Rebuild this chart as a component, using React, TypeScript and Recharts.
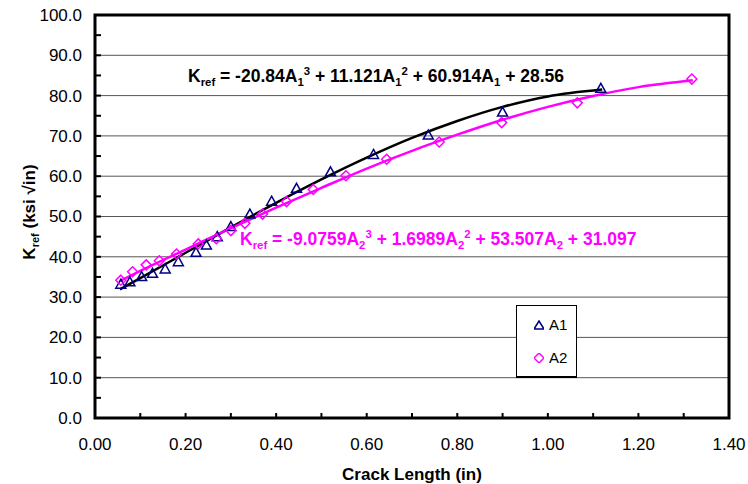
import { ComposedChart, Scatter, Line, XAxis, YAxis, CartesianGrid, ReferenceArea } from 'recharts'

// measured points
const A1_X = [0.057, 0.077, 0.103, 0.127, 0.155, 0.184, 0.223, 0.246, 0.27, 0.3, 0.342, 0.39, 0.445, 0.52, 0.615, 0.736, 0.9, 1.117]
const A1_Y = [33.2, 33.8, 35.1, 35.9, 37.0, 38.8, 41.1, 42.9, 45.0, 47.5, 50.6, 53.8, 57.0, 61.1, 65.4, 70.2, 75.9, 81.8]
const A2_X = [0.057, 0.083, 0.113, 0.142, 0.18, 0.228, 0.268, 0.3, 0.331, 0.37, 0.423, 0.482, 0.554, 0.644, 0.76, 0.898, 1.065, 1.318]
const A2_Y = [34.2, 36.3, 38.0, 39.0, 40.7, 43.2, 44.5, 46.5, 48.3, 50.6, 53.7, 56.7, 60.1, 64.2, 68.5, 73.3, 78.2, 84.1]

// trend lines
const FIT1_X = [0.055, 0.1, 0.2, 0.3, 0.4, 0.5, 0.6, 0.7, 0.8, 0.9, 1.0, 1.12]
const FIT1_Y = [31.9, 34.7, 41.0, 47.3, 53.4, 59.2, 64.6, 69.5, 73.7, 77.2, 79.8, 81.5]
const FIT2_X = [0.055, 0.1, 0.2, 0.3, 0.4, 0.5, 0.6, 0.7, 0.8, 0.9, 1.0, 1.1, 1.2, 1.32]
const FIT2_Y = [34.0, 36.5, 41.8, 47.1, 52.2, 57.1, 61.9, 66.3, 70.3, 74.0, 77.2, 79.9, 82.1, 83.8]

const X_TICKS = [0, 0.1, 0.2, 0.3, 0.4, 0.5, 0.6, 0.7, 0.8, 0.9, 1.0, 1.1, 1.2, 1.3, 1.4]
const Y_TICKS = [0, 5, 10, 15, 20, 25, 30, 35, 40, 45, 50, 55, 60, 65, 70, 75, 80, 85, 90, 95, 100]
const GRID_Y = [10, 20, 30, 40, 50, 60, 70, 80, 90]

const FONT = 'Arial, "Liberation Sans", sans-serif'
const NAVY = '#000080'
const MAGENTA = '#ff00ff'

const zip = (xs: number[], ys: number[]) => xs.map((x, i) => ({ x, y: ys[i] }))

function XTick(props: any) {
  const { x, y, payload } = props
  const v = payload.value
  const major = Math.round(v * 10) % 2 === 0
  return (
    <g>
      <line x1={x} x2={x} y1={y} y2={y - 5} stroke="#000" strokeWidth={2} />
      {major && (
        <text x={x} y={y + 32} textAnchor="middle" fontSize={17} fontFamily={FONT} fill="#000">
          {v.toFixed(2)}
        </text>
      )}
    </g>
  )
}

function YTick(props: any) {
  const { x, y, payload } = props
  const v = payload.value
  const major = v % 10 === 0
  return (
    <g>
      <line x1={x} x2={x + 6} y1={y} y2={y} stroke="#000" strokeWidth={2} />
      {major && (
        <text x={x - 13} y={y} dy="0.35em" textAnchor="end" fontSize={17} fontFamily={FONT} fill="#000">
          {v.toFixed(1)}
        </text>
      )}
    </g>
  )
}

const Triangle = (p: any) => (
  <path
    d={`M${p.cx},${p.cy - 5} L${p.cx + 5},${p.cy + 4} L${p.cx - 5},${p.cy + 4} Z`}
    fill="none"
    stroke={NAVY}
    strokeWidth={1.5}
  />
)

const Diamond = (p: any) => (
  <path
    d={`M${p.cx},${p.cy - 5} L${p.cx + 5},${p.cy} L${p.cx},${p.cy + 5} L${p.cx - 5},${p.cy} Z`}
    fill="none"
    stroke={MAGENTA}
    strokeWidth={1.5}
  />
)

type Seg = { t: string; s?: 'sub' | 'sup' }

// text with sub/superscripts
function RichText({ x, y, segs, size, fill, ...rest }: any) {
  let cur = 0
  return (
    <text x={x} y={y} fontSize={size} fontFamily={FONT} fontWeight="bold" fill={fill} {...rest}>
      {segs.map((sg: Seg, i: number) => {
        const target = sg.s === 'sub' ? size * 0.25 : sg.s === 'sup' ? -size * 0.4 : 0
        const dy = target - cur
        cur = target
        return (
          <tspan key={i} dy={dy} fontSize={sg.s ? size * 0.65 : size}>
            {sg.t}
          </tspan>
        )
      })}
    </text>
  )
}

const EQ1: Seg[] = [
  { t: 'K' }, { t: 'ref', s: 'sub' }, { t: ' = -20.84A' }, { t: '1', s: 'sub' }, { t: '3', s: 'sup' },
  { t: ' + 11.121A' }, { t: '1', s: 'sub' }, { t: '2', s: 'sup' }, { t: ' + 60.914A' }, { t: '1', s: 'sub' },
  { t: ' + 28.56' },
]
const EQ2: Seg[] = [
  { t: 'K' }, { t: 'ref', s: 'sub' }, { t: ' = -9.0759A' }, { t: '2', s: 'sub' }, { t: '3', s: 'sup' },
  { t: ' + 1.6989A' }, { t: '2', s: 'sub' }, { t: '2', s: 'sup' }, { t: ' + 53.507A' }, { t: '2', s: 'sub' },
  { t: ' + 31.097' },
]
const YTITLE: Seg[] = [{ t: 'K' }, { t: 'ref', s: 'sub' }, { t: ' (ksi \u221Ain)' }]

export default function App() {
  return (
    <div style={{ position: 'absolute', left: 0, top: 0, width: 748, height: 484, background: '#fff' }}>
      <ComposedChart width={748} height={484} margin={{ top: 15, right: 19, bottom: 0, left: 0 }}>
        <CartesianGrid horizontal vertical={false} horizontalValues={GRID_Y} stroke="#555" strokeWidth={1} />
        <XAxis
          dataKey="x"
          type="number"
          domain={[0, 1.4]}
          ticks={X_TICKS}
          interval={0}
          height={66}
          tickSize={0}
          tickMargin={0}
          axisLine={false}
          tickLine={false}
          tick={<XTick />}
        />
        <YAxis
          type="number"
          domain={[0, 100]}
          ticks={Y_TICKS}
          interval={0}
          width={95}
          tickSize={0}
          tickMargin={0}
          axisLine={false}
          tickLine={false}
          tick={<YTick />}
        />
        <Scatter data={zip(A1_X, A1_Y)} dataKey="y" shape={<Triangle />} isAnimationActive={false} />
        <Scatter data={zip(A2_X, A2_Y)} dataKey="y" shape={<Diamond />} isAnimationActive={false} />
        <Line data={zip(FIT1_X, FIT1_Y)} dataKey="y" type="monotone" stroke="#000" strokeWidth={2.5} dot={false} isAnimationActive={false} />
        <Line data={zip(FIT2_X, FIT2_Y)} dataKey="y" type="monotone" stroke={MAGENTA} strokeWidth={2.5} dot={false} isAnimationActive={false} />
        <ReferenceArea x1={0} x2={1.4} y1={0} y2={100} fill="none" stroke="#000" strokeWidth={3} />
      </ComposedChart>

      <svg width={748} height={484} style={{ position: 'absolute', left: 0, top: 0, pointerEvents: 'none' }}>
        <RichText x={188} y={82} segs={EQ1} size={17.5} fill="#000" />
        <RichText x={240} y={245} segs={EQ2} size={17.5} fill={MAGENTA} />
        <RichText x={0} y={0} segs={YTITLE} size={17} fill="#000" textAnchor="middle" transform="translate(35,212) rotate(-90)" />
        <text x={412} y={480} textAnchor="middle" fontSize={17} fontWeight="bold" fontFamily={FONT} fill="#000">
          Crack Length (in)
        </text>
      </svg>

      <div
        style={{
          position: 'absolute',
          left: 516,
          top: 305,
          width: 59,
          height: 70,
          background: '#fff',
          border: '1px solid #000',
          borderBottomWidth: 2,
          fontFamily: FONT,
          fontSize: 15,
        }}
      >
        {[
          { name: 'A1', mark: <path d="M5,1 L10,9 L0,9 Z" fill="none" stroke={NAVY} strokeWidth={1.5} /> },
          { name: 'A2', mark: <path d="M5,0 L10,5 L5,10 L0,5 Z" fill="none" stroke={MAGENTA} strokeWidth={1.5} /> },
        ].map((it, i) => (
          <div key={it.name} style={{ position: 'absolute', left: 17, top: 10 + i * 33, display: 'flex', alignItems: 'center', gap: 5 }}>
            <svg width={10} height={10}>{it.mark}</svg>
            <span>{it.name}</span>
          </div>
        ))}
      </div>
    </div>
  )
}
